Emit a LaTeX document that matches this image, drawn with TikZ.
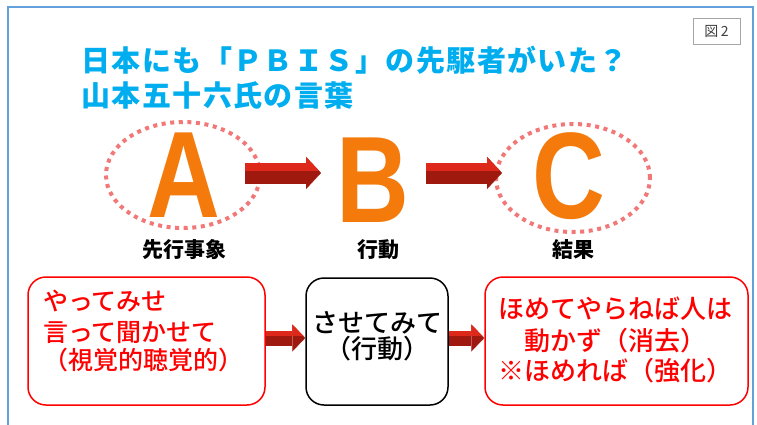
\documentclass[tikz,border=0pt]{standalone}
\usepackage{fontspec}
\setmainfont{Noto Sans CJK JP}
\newfontfamily\jpmed{Noto Sans CJK JP Medium}
\newfontfamily\latinbold{Liberation Sans}
\usetikzlibrary{shapes.geometric,arrows.meta,calc}
\definecolor{titlecyan}{RGB}{0,174,239}
\definecolor{framebl}{RGB}{100,160,220}
\definecolor{letterorange}{RGB}{244,122,12}
\definecolor{dotpink}{RGB}{242,120,120}
\definecolor{arrowdark}{RGB}{160,25,15}
\definecolor{arrowlight}{RGB}{222,40,25}
\definecolor{boxred}{RGB}{255,0,0}
\tikzset{
  frameline/.style={draw=framebl, line width=2.5pt},
  titletext/.style={text=titlecyan, inner sep=0pt, anchor=base west, font=\fontsize{29}{29}\selectfont\bfseries\addfontfeature{LetterSpace=5}},
  bigletter/.style={text=letterorange, inner sep=0pt, font=\latinbold\fontsize{123}{123}\selectfont\bfseries},
  dotell/.style={ellipse, draw=dotpink, line width=4pt, dash pattern=on 4pt off 4.6pt, inner sep=0pt},
  lab/.style={inner sep=0pt, anchor=base, font=\fontsize{21}{21}\selectfont\bfseries},
  redbox/.style={draw=boxred, line width=1.5pt, rounded corners=18pt},
  blackbox/.style={draw=black, line width=1.5pt, rounded corners=18pt},
  redtext/.style={text=boxred, inner sep=0pt, anchor=base west, font=\jpmed\fontsize{25}{25}\selectfont},
  redtextb/.style={text=boxred, inner sep=0pt, anchor=base west, font=\jpmed\fontsize{26}{26}\selectfont},
  blacktext/.style={text=black, inner sep=0pt, anchor=base, font=\jpmed\fontsize{26}{26}\selectfont},
  arrbig/.style={line width=21pt, -{Triangle[length=15pt,width=32pt,line width=0.1pt]}},
  arrsmall/.style={line width=15pt, -{Triangle[length=13pt,width=27pt,line width=0.1pt]}},
  figlabel/.style={draw=gray!70, line width=0.8pt, minimum width=47pt, minimum height=26pt, inner sep=0pt, text=black!75, font=\fontsize{14}{14}\selectfont}
}
\newcommand\threedarrow[3]{%
  \draw[#1, draw=arrowdark] (#2) -- (#3);
  \begin{scope}
    \clip ($(#2)+(-30,-40)$) rectangle ($(#3)+(10,-3)$);
    \draw[#1, draw=arrowlight] (#2) -- (#3);
  \end{scope}}
\begin{document}
\begin{tikzpicture}[x=1pt,y=-1pt]
\useasboundingbox (0,0) rectangle (757,424);
\fill[white] (0,0) rectangle (757,424);
% frame
\draw[frameline] (8,430) -- (8,7) -- (753,7) -- (753,430);
% figure label
\node[figlabel] (fig) at (716.5,31) {図\,2};
% title
\node[titletext] (title1) at (81,71) {日本にも「ＰＢＩＳ」の先駆者がいた？};
\node[titletext] (title2) at (81,106) {山本五十六氏の言葉};
% ellipses
\node[dotell, minimum width=154pt, minimum height=106pt] (ellA) at (183,175) {};
\node[dotell, minimum width=154pt, minimum height=108pt] (ellC) at (573,178) {};
% letters
\node[bigletter] (A) at (184,175) {\scalebox{0.82}[1]{A}};
\node[bigletter] (B) at (373,180) {\scalebox{0.82}[1]{B}};
\node[bigletter] (C) at (569,176) {\scalebox{0.82}[1]{C}};
% labels
\node[lab] (labA) at (184,257) {先行事象};
\node[lab] (labB) at (378,257) {行動};
\node[lab] (labC) at (573,257) {結果};
% top arrows
\coordinate (a1s) at (245,173);
\coordinate (a1e) at (321,173);
\coordinate (a2s) at (426,173);
\coordinate (a2e) at (502,173);
\threedarrow{arrbig}{a1s}{a1e}
\threedarrow{arrbig}{a2s}{a2e}
% boxes
\node[redbox, minimum width=237pt, minimum height=128pt] (leftbox) at (146.5,341) {};
\node[blackbox, minimum width=142pt, minimum height=127pt] (midbox) at (377,341.5) {};
\node[redbox, minimum width=263pt, minimum height=128pt] (rightbox) at (616.5,341) {};
% box texts
\node[redtext] (l1) at (43,310.5) {やってみせ};
\node[redtext] (l2) at (43,341.5) {言って聞かせて};
\node[redtext] (l3) at (43,369.5) {（視覚的聴覚的）};
\node[blacktext] (m1) at (377,332) {させてみて};
\node[blacktext] (m2) at (377,358) {（行動）};
\node[redtextb] (r1) at (498,318) {ほめてやらねば人は};
\node[redtextb] (r2) at (498,350) {　動かず（消去）};
\node[redtextb] (r3) at (498,380) {※ほめれば（強化）};
% bottom arrows
\coordinate (b1s) at (leftbox.east |- 0,338);
\coordinate (b1e) at (midbox.west |- 0,338);
\coordinate (b2s) at (midbox.east |- 0,338);
\coordinate (b2e) at (rightbox.west |- 0,338);
\threedarrow{arrsmall}{b1s}{b1e}
\threedarrow{arrsmall}{b2s}{b2e}
\end{tikzpicture}
\end{document}
